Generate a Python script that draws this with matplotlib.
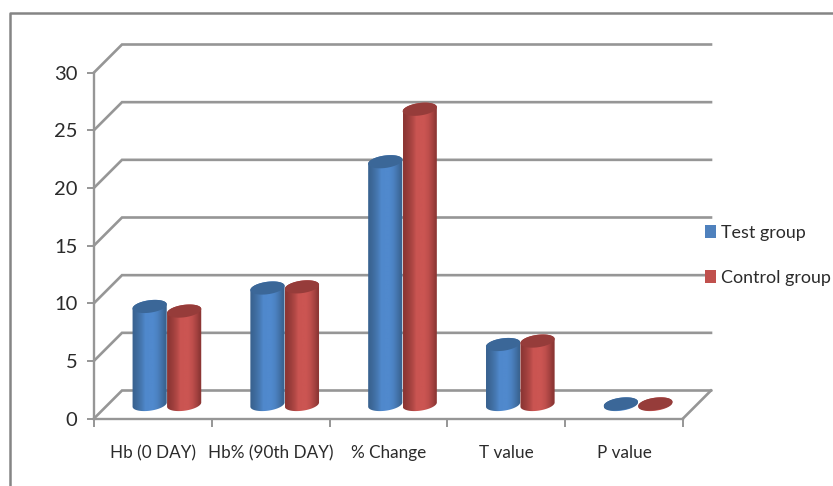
import numpy as np
import matplotlib
matplotlib.use("Agg")
import matplotlib.pyplot as plt
from matplotlib.colors import LinearSegmentedColormap
from matplotlib.lines import Line2D
from matplotlib.patches import Patch, PathPatch, Polygon
from matplotlib.path import Path

categories = ["Hb (0 DAY)", "Hb% (90th DAY)", "% Change", "T value", "P value"]
test_group = [8.5, 10.1, 21.05, 5.2, 0.05]
control_group = [8.1, 10.2, 25.6, 5.5, 0.05]
y_ticks = [0, 5, 10, 15, 20, 25, 30]

W, H = 833, 486
LEFT, RIGHT = 94, 683      # front plane, pixels
BOTTOM, TOP = 418.5, 72.5
DEPTH = 28.0               # floor depth, pixels
BAR_W = 34.5
ELL_B = 6.2
TILT = np.deg2rad(8)

GRID = "#969696"
TEXT = "#2b2b2b"
plt.rcParams["font.family"] = ["Lato", "DejaVu Sans"]

fig = plt.figure(figsize=(W / 100, H / 100), dpi=100, facecolor="white")
ax = fig.add_axes([LEFT / W, 1 - BOTTOM / H, (RIGHT - LEFT) / W, (BOTTOM - TOP) / H])
ax.set_xlim(0, len(categories))
ax.set_ylim(0, 30)
ax.patch.set_visible(False)

# pixel sizes expressed in data units
ux = len(categories) / (RIGHT - LEFT)
uy = 30 / (BOTTOM - TOP)
dx, dy = DEPTH * ux, DEPTH * uy


def ellipse(xc, yc, a=BAR_W / 2, b=ELL_B, t0=0.0, t1=2 * np.pi):
    t = np.linspace(t0, t1, 60)
    px = a * np.cos(t) * np.cos(TILT) - b * np.sin(t) * np.sin(TILT)
    py = a * np.cos(t) * np.sin(TILT) + b * np.sin(t) * np.cos(TILT)
    return np.column_stack([xc + px * ux, yc + py * uy])


def cylinder(xc, value, edge, mid, top):
    base = dy / 2
    upper = base + value
    cmap = LinearSegmentedColormap.from_list("body", [edge, mid, mid, edge], N=128)
    shade = np.array([cmap(v) for v in [0.02, 0.1, 0.2, 0.33, 0.45, 0.62, 0.72, 0.84, 0.98]])
    outline = np.vstack([ellipse(xc, base, t0=np.pi, t1=2 * np.pi),
                         ellipse(xc, upper, t0=0, t1=np.pi)])
    half = BAR_W / 2 * ux
    im = ax.imshow(shade[np.newaxis, :, :3], extent=[xc - half, xc + half, base - 2, upper + 2],
                   aspect="auto", interpolation="bilinear", zorder=3)
    clip = PathPatch(Path(np.vstack([outline, outline[:1]])), transform=ax.transData,
                     fc="none", ec="none")
    ax.add_patch(clip)
    im.set_clip_path(clip)
    ax.add_patch(Polygon(ellipse(xc, upper), closed=True, fc=top, ec="none", zorder=3,
                         clip_on=False))


# side wall and back wall lines, one per tick
for v in y_ticks:
    ax.plot([0, dx, len(categories) + dx], [v, v + dy, v + dy], color=GRID, lw=1.9,
            clip_on=False, zorder=1, solid_joinstyle="miter")
ax.plot([len(categories), len(categories) + dx], [0, dy], color=GRID, lw=1.9,
        clip_on=False, zorder=1)

# cylinders stand mid-way across the floor, test group to the left of control
for i in range(len(categories)):
    xc = i + 0.5 + dx / 2
    half = BAR_W / 2 * ux
    cylinder(xc - half, test_group[i], "#39628f", "#5089cd", "#3b6798")
    cylinder(xc + half, control_group[i], "#8a3533", "#cb5552", "#963c3a")

ax.spines[["top", "right"]].set_visible(False)
for side in ["left", "bottom"]:
    ax.spines[side].set_color(GRID)
    ax.spines[side].set_linewidth(1.7)

ax.set_yticks(y_ticks)
ax.set_xticks(range(len(categories) + 1))
ax.set_xticklabels([])
ax.set_xticks(np.arange(len(categories)) + 0.5, labels=categories, minor=True)
ax.tick_params(axis="y", length=5, width=1.4, color=GRID, pad=7, labelsize=14.5, labelcolor=TEXT)
ax.tick_params(axis="x", which="major", length=6, width=1.4, color=GRID)
ax.tick_params(axis="x", which="minor", length=0, pad=19, labelsize=12.3, labelcolor=TEXT)

handles = [Patch(fc="#4f81bd", ec="none", label="Test group"),
           Patch(fc="#c0504d", ec="none", label="Control group")]
fig.legend(handles=handles, loc="upper left", bbox_to_anchor=(705 / W, 1 - 225 / H),
           frameon=False, fontsize=12.9, labelcolor=TEXT, handlelength=0.62, handleheight=0.72,
           handletextpad=0.27, labelspacing=1.6, borderpad=0, borderaxespad=0)

# outer chart frame, cut off by the image edge at the top right and bottom
fig.add_artist(Line2D([10 / W, 10 / W, 1], [0, 1 - 13 / H, 1 - 13 / H], color="#858585", lw=1.8))

fig.savefig("out.png", dpi=100)
